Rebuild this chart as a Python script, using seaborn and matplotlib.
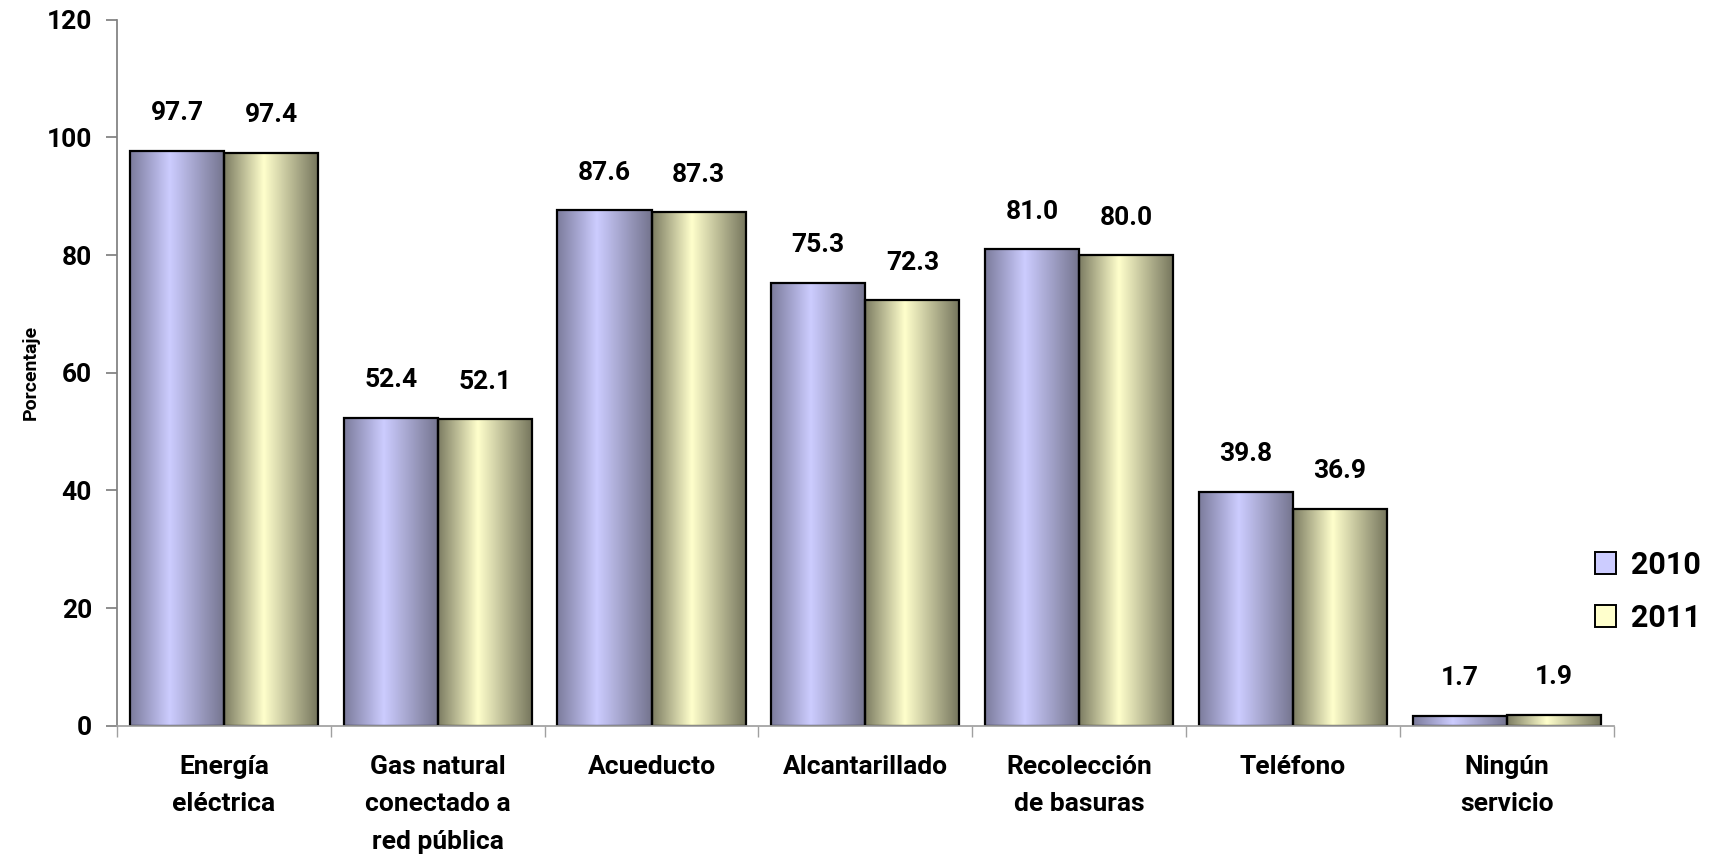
import numpy as np
import pandas as pd
import seaborn as sns
import matplotlib.pyplot as plt
from matplotlib.colors import LinearSegmentedColormap
from matplotlib.patches import Patch

# Services and coverage percentages
categories = ["Energía\neléctrica", "Gas natural\nconectado a\nred pública", "Acueducto",
              "Alcantarillado", "Recolección\nde basuras", "Teléfono", "Ningún\nservicio"]
years = ["2010", "2011"]
values_2010 = [97.7, 52.4, 87.6, 75.3, 81.0, 39.8, 1.7]
values_2011 = [97.4, 52.1, 87.3, 72.3, 80.0, 36.9, 1.9]
y_ticks = [0, 20, 40, 60, 80, 100, 120]

df = pd.DataFrame({
    "servicio": categories * 2,
    "anio": [years[0]] * len(categories) + [years[1]] * len(categories),
    "valor": values_2010 + values_2011,
})

sns.set_theme(style="white")
plt.rcParams["font.family"] = ["Roboto", "DejaVu Sans"]
plt.rcParams["font.weight"] = "bold"
plt.rcParams["text.color"] = "black"
plt.rcParams["xtick.color"] = "black"
plt.rcParams["ytick.color"] = "black"
plt.rcParams["axes.labelcolor"] = "black"

fig = plt.figure(figsize=(17.22, 8.57), dpi=100)
ax = fig.add_axes([0.068, 0.153, 0.869, 0.824])

flat = {"2010": "#CCCCFF", "2011": "#FFFFCC"}
sns.barplot(data=df, x="servicio", y="valor", hue="anio", order=categories,
            hue_order=years, palette=flat, width=0.88, gap=0, ax=ax,
            edgecolor="black", linewidth=1.6, legend=False, saturation=1)

# cylinder-like horizontal shading of each bar
grads = {
    "2010": LinearSegmentedColormap.from_list("g10", [(0, "#7C7C9C"), (0.42, "#CCCCFF"), (1, "#74748E")]),
    "2011": LinearSegmentedColormap.from_list("g11", [(0, "#7C7C62"), (0.42, "#FFFFCC"), (1, "#74745C")]),
}
strip = np.linspace(0, 1, 256).reshape(1, -1)
for year, cont in zip(years, ax.containers):
    for bar in cont:
        x0, y0 = bar.get_x(), bar.get_y()
        w, h = bar.get_width(), bar.get_height()
        im = ax.imshow(strip, cmap=grads[year], aspect="auto",
                       extent=[x0, x0 + w, y0, y0 + h], zorder=bar.get_zorder() - 0.1)
        im.set_clip_path(bar)
        bar.set_facecolor("none")
        ax.annotate(f"{h:.1f}", (x0 + w / 2, h), xytext=(0, 27), textcoords="offset points",
                    ha="center", va="center", fontsize=19, fontweight="bold")

ax.set_xlim(-0.5, len(categories) - 0.5)
ax.set_ylim(0, 120)
ax.set_yticks(y_ticks)
ax.set_yticklabels([str(t) for t in y_ticks], fontsize=19, fontweight="bold")
ax.set_xticks(range(len(categories)))
ax.set_xticklabels(categories, fontsize=19, fontweight="bold", linespacing=1.7)
ax.set_xticks(np.arange(-0.5, len(categories)), minor=True)
ax.tick_params(axis="x", which="major", length=0, pad=21)
ax.tick_params(axis="x", which="minor", length=8, color="#A0A0A0", direction="out", bottom=True)
ax.tick_params(axis="y", length=8, color="#808080", direction="out", left=True, pad=10)
ax.set_xlabel("")
ax.set_ylabel("Porcentaje", fontsize=14, fontweight="bold", labelpad=5)

for side in ["top", "right"]:
    ax.spines[side].set_visible(False)
ax.spines["left"].set_color("#808080")
ax.spines["bottom"].set_color("#A0A0A0")

handles = [Patch(facecolor=flat[y], edgecolor="black", linewidth=1.4) for y in years]
fig.legend(handles, years, loc="center left", bbox_to_anchor=(0.910, 0.31),
           frameon=False, prop={"weight": "bold", "size": 22},
           handlelength=0.7, handleheight=0.7, labelspacing=0.75, handletextpad=0.5)

fig.savefig("out.png", dpi=100)
